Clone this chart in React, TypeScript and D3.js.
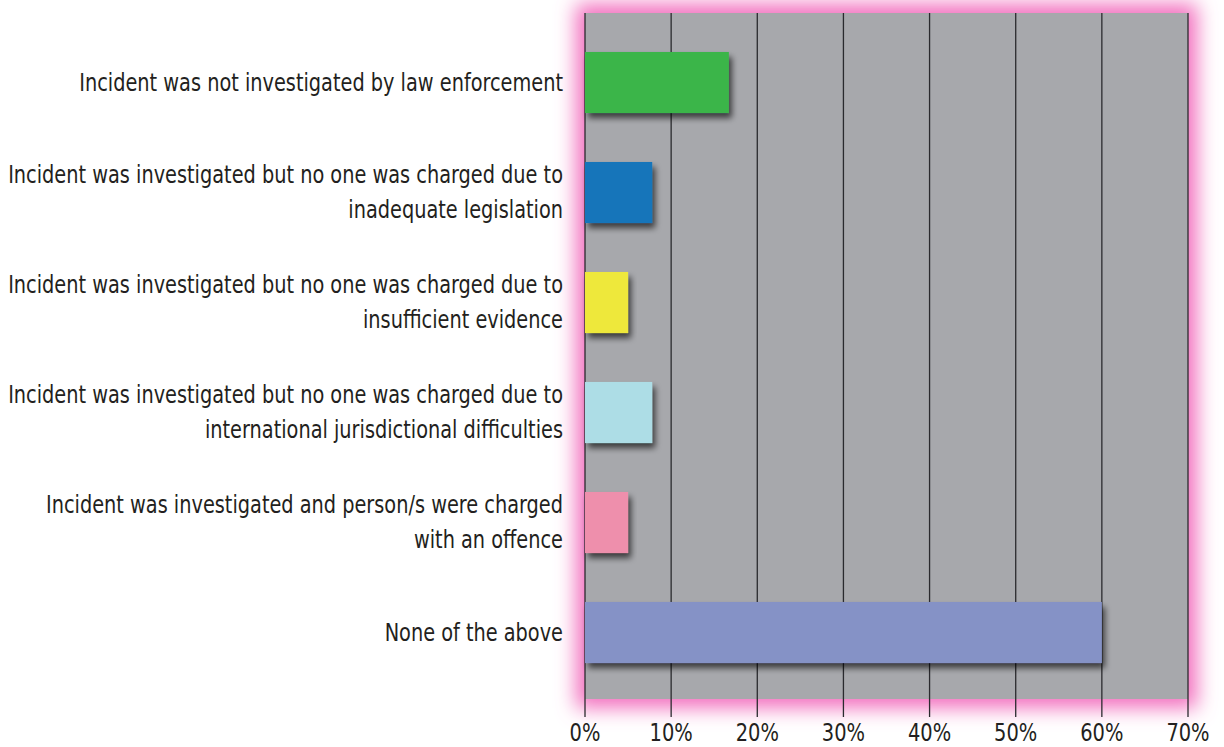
import React from "react";
import * as d3 from "d3";

const categories: string[][] = [
  ["Incident was not investigated by law enforcement"],
  ["Incident was investigated but no one was charged due to", "inadequate legislation"],
  ["Incident was investigated but no one was charged due to", "insufficient evidence"],
  ["Incident was investigated but no one was charged due to", "international jurisdictional difficulties"],
  ["Incident was investigated and person/s were charged", "with an offence"],
  ["None of the above"],
];
const values: number[] = [16.7, 7.8, 5.0, 7.8, 5.0, 60.0];
const barColors: string[] = ["#3AB54A", "#1874BA", "#EEE83A", "#ADDDE6", "#EE8FAC", "#8592C6"];
const ticks: number[] = [0, 10, 20, 30, 40, 50, 60, 70];

const W = 1224;
const H = 747;
const plotLeft = 585;
const plotRight = 1188;
const plotTop = 13;
const plotBottom = 699;
const gridBottom = 717;

export default function App() {
  const x = d3.scaleLinear().domain([0, 70]).range([plotLeft, plotRight]);
  const y = d3
    .scaleBand<number>()
    .domain(d3.range(categories.length))
    .range([27.5, 687.5])
    .paddingInner(0.445)
    .paddingOuter(0.2225);
  const font = "'DejaVu Sans Condensed', 'DejaVu Sans', sans-serif";
  const lineH = 35;
  const labelX = 563;
  return (
    <svg width={W} height={H} style={{ position: "absolute", left: 0, top: 0 }}>
      <defs>
        <filter id="glow" x="-20%" y="-20%" width="140%" height="140%">
          <feMorphology in="SourceAlpha" operator="dilate" radius="9" result="d" />
          <feGaussianBlur in="d" stdDeviation="10" result="b" />
          <feFlood floodColor="#F26FBE" floodOpacity="1" />
          <feComposite in2="b" operator="in" result="g" />
          <feMerge>
            <feMergeNode in="g" />
            <feMergeNode in="SourceGraphic" />
          </feMerge>
        </filter>
        <filter id="shadow" x="-20%" y="-20%" width="140%" height="160%">
          <feGaussianBlur in="SourceAlpha" stdDeviation="3" />
          <feOffset dx="3" dy="5" result="o" />
          <feComponentTransfer in="o" result="s">
            <feFuncA type="linear" slope="0.65" />
          </feComponentTransfer>
          <feMerge>
            <feMergeNode in="s" />
            <feMergeNode in="SourceGraphic" />
          </feMerge>
        </filter>
      </defs>
      <rect x={0} y={0} width={W} height={H} fill="#fff" />
      <rect
        x={plotLeft}
        y={plotTop}
        width={plotRight - plotLeft}
        height={plotBottom - plotTop}
        fill="#A7A8AC"
        filter="url(#glow)"
      />
      {ticks.map((t) => (
        <line
          key={"g" + t}
          x1={x(t)}
          x2={x(t)}
          y1={plotTop}
          y2={gridBottom}
          stroke="#2a2a2e"
          strokeWidth={1.3}
        />
      ))}
      {values.map((v, i) => (
        <rect
          key={"b" + i}
          x={x(0)}
          y={y(i)!}
          width={x(v) - x(0)}
          height={y.bandwidth()}
          fill={barColors[i]}
          filter="url(#shadow)"
        />
      ))}
      {categories.map((lines, i) => {
        const cy = y(i)! + y.bandwidth() / 2;
        const n = lines.length;
        return (
          <g key={"l" + i} transform={`translate(${labelX},0) scale(0.895,1)`}>
            <text textAnchor="end" fontFamily={font} fontSize={24} fill="#231F20">
              {lines.map((ln, j) => (
                <tspan key={j} x={0} y={cy + (j - (n - 1) / 2) * lineH} dominantBaseline="central">
                  {ln}
                </tspan>
              ))}
            </text>
          </g>
        );
      })}
      {ticks.map((t) => (
        <g key={"t" + t} transform={`translate(${x(t)},733) scale(0.9,1)`}>
          <text
            x={0}
            y={0}
            textAnchor="middle"
            dominantBaseline="central"
            fontFamily={font}
            fontSize={24}
            fill="#231F20"
          >
            {t + "%"}
          </text>
        </g>
      ))}
    </svg>
  );
}
